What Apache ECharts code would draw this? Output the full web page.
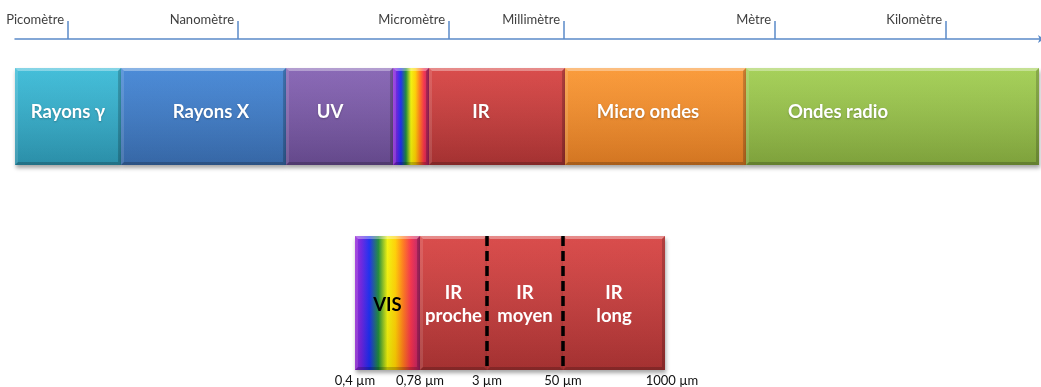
<!DOCTYPE html>
<html>
<head>
<meta charset="utf-8">
<script src="https://cdn.jsdelivr.net/npm/echarts@6/dist/echarts.min.js"></script>
<style>html,body{margin:0;padding:0;background:#fff;}#chart{width:1041px;height:387px;}</style>
</head>
<body>
<div id="chart"></div>
<script>
// ---- Data (schematic scale units) ----
// Top spectrum: scale ticks
var scaleNames = ['Picomètre', 'Nanomètre', 'Micromètre', 'Millimètre', 'Mètre', 'Kilomètre'];
var scaleTicks = [53, 223, 434, 549, 760, 931];
// Top spectrum: bands
var bandNames  = ['Rayons γ', 'Rayons X', 'UV', '', 'IR', 'Micro ondes', 'Ondes radio'];
var bandStart  = [0, 106, 271, 378, 414, 550, 731];
var bandEnd    = [106, 271, 378, 414, 550, 731, 1024];
var bandLabelAt = [53, 196, 315, 396, 466, 633, 823];
var bandColorTop = ['#3dbcd8', '#4587d6', '#8664b4', null, '#d84645', '#fa9835', '#a3cf54'];
var bandColorBot = ['#2e9ab6', '#3a6fb3', '#6c4e96', null, '#b13535', '#e47f24', '#88ae40'];

// Bottom zoom: visible + infrared
var zoomTickValues = [0, 65, 132, 208, 310];
var zoomTickLabels = ['0,4 µm', '0,78 µm', '3 µm', '50 µm', '1000 µm'];
var zoomBandNames  = ['VIS', 'IR\nproche', 'IR\nmoyen', 'IR\nlong'];
var zoomBandStart  = [0, 65, 132, 208];
var zoomBandEnd    = [65, 132, 208, 310];
var zoomDashed     = [132, 208];

var spectrumStops = [
  [0.00, '#9a28d8'], [0.10, '#6a22e0'], [0.22, '#1a2cf0'], [0.36, '#1f8a3a'],
  [0.50, '#f2f20a'], [0.62, '#ffd000'], [0.74, '#ff7a1a'], [0.86, '#f5304a'],
  [1.00, '#b4206e']
];

function spectrumGradient() {
  return new echarts.graphic.LinearGradient(0, 0, 1, 0,
    spectrumStops.map(function (s) { return { offset: s[0], color: s[1] }; }));
}

function bevelBox(x0, y0, x1, y1, fill, b) {
  var kids = [];
  kids.push({
    type: 'rect', shape: { x: x0, y: y0, width: x1 - x0, height: y1 - y0 },
    style: { fill: fill, shadowBlur: 4, shadowOffsetY: 3, shadowOffsetX: 1, shadowColor: 'rgba(0,0,0,0.35)' }
  });
  kids.push({
    type: 'rect', shape: { x: x0, y: y0, width: x1 - x0, height: y1 - y0 },
    style: { fill: new echarts.graphic.LinearGradient(0, 0, 0, 1, [
      { offset: 0, color: 'rgba(255,255,255,0.04)' }, { offset: 1, color: 'rgba(0,0,0,0.08)' }]) }
  });
  kids.push({ type: 'polygon', shape: { points: [[x0, y0], [x1, y0], [x1 - b, y0 + b], [x0 + b, y0 + b]] },
    style: { fill: 'rgba(255,255,255,0.35)' } });
  kids.push({ type: 'polygon', shape: { points: [[x0, y1], [x1, y1], [x1 - b, y1 - b], [x0 + b, y1 - b]] },
    style: { fill: 'rgba(0,0,0,0.2)' } });
  kids.push({ type: 'polygon', shape: { points: [[x0, y0], [x0 + b, y0 + b], [x0 + b, y1 - b], [x0, y1]] },
    style: { fill: 'rgba(255,255,255,0.12)' } });
  kids.push({ type: 'polygon', shape: { points: [[x1, y0], [x1 - b, y0 + b], [x1 - b, y1 - b], [x1, y1]] },
    style: { fill: 'rgba(0,0,0,0.18)' } });
  return kids;
}

var topData = bandNames.map(function (n, i) { return [bandStart[i], bandEnd[i], i, bandLabelAt[i]]; });
var zoomData = zoomBandNames.map(function (n, i) { return [zoomBandStart[i], zoomBandEnd[i], i]; });

var chart = echarts.init(document.getElementById('chart'), null, { renderer: 'canvas' });
var axisBlue = '#5b8bc9';
var option = {
  animation: false,
  grid: [
    { left: 15, width: 1026, top: 68, height: 97 },
    { left: 355, width: 310, top: 236, height: 136 }
  ],
  xAxis: [
    {
      gridIndex: 0, type: 'value', min: 0, max: 1026, position: 'top', offset: 29,
      splitLine: { show: false },
      axisLine: { show: true, onZero: false, lineStyle: { color: axisBlue, width: 1.5 }, symbol: ['none', 'arrow'], symbolSize: [6, 6], symbolOffset: [0, 3] },
      axisTick: { show: true, length: 18, inside: false, customValues: scaleTicks, lineStyle: { color: axisBlue, width: 1.5 } },
      axisLabel: {
        show: true, customValues: scaleTicks, align: 'right', margin: 13, padding: [0, 4, 0, 0],
        fontFamily: 'Lato', fontSize: 13, color: '#404040',
        formatter: function (v) { var k = scaleTicks.indexOf(v); return k >= 0 ? scaleNames[k] : ''; }
      }
    },
    {
      gridIndex: 1, type: 'value', min: 0, max: 310, position: 'bottom',
      splitLine: { show: false }, axisLine: { show: false, onZero: false }, axisTick: { show: false },
      axisLabel: {
        show: true, customValues: zoomTickValues, margin: 4,
        fontFamily: 'Lato', fontSize: 13, color: '#111',
        formatter: function (v) {
          var k = zoomTickValues.indexOf(v);
          if (k < 0) return '';
          return k === zoomTickValues.length - 1 ? '{r|' + zoomTickLabels[k] + '}' : zoomTickLabels[k];
        },
        rich: { r: { fontFamily: 'Lato', fontSize: 13, color: '#111', padding: [0, 0, 0, 14] } }
      }
    }
  ],
  yAxis: [
    { gridIndex: 0, type: 'value', min: 0, max: 1, show: false },
    { gridIndex: 1, type: 'value', min: 0, max: 1, show: false }
  ],
  series: [
    {
      type: 'custom', xAxisIndex: 0, yAxisIndex: 0, data: topData, clip: false,
      renderItem: function (params, api) {
        var i = api.value(2);
        var p0 = api.coord([api.value(0), 1]);
        var p1 = api.coord([api.value(1), 0]);
        var fill = bandColorTop[i] ? new echarts.graphic.LinearGradient(0, 0, 0, 1, [
          { offset: 0, color: bandColorTop[i] }, { offset: 1, color: bandColorBot[i] }]) : spectrumGradient();
        var kids = bevelBox(p0[0], p0[1], p1[0], p1[1], fill, 3);
        if (bandNames[i]) {
          var lp = api.coord([api.value(3), 0.55]);
          kids.push({ type: 'text', style: { x: lp[0], y: lp[1], text: bandNames[i], align: 'center', verticalAlign: 'middle',
            fill: '#ffffff', font: 'bold 18.5px Lato', textShadowColor: 'rgba(0,0,0,0.25)', textShadowBlur: 2, textShadowOffsetY: 1 } });
        }
        return { type: 'group', children: kids };
      }
    },
    {
      type: 'custom', xAxisIndex: 1, yAxisIndex: 1, data: zoomData, clip: false,
      renderItem: function (params, api) {
        var i = api.value(2);
        var p0 = api.coord([api.value(0), 1]);
        var p1 = api.coord([api.value(1), 0]);
        var isVis = i === 0;
        var fill = isVis ? spectrumGradient() : new echarts.graphic.LinearGradient(0, 0, 0, 1, [
          { offset: 0, color: '#d84645' }, { offset: 1, color: '#b13535' }]);
        var kids = bevelBox(p0[0], p0[1], p1[0], p1[1], fill, 3);
        if (i === 1 || i === 2) { kids.splice(5, 1); }
        if (i === 2 || i === 3) { kids.splice(4, 1); }
        var c = api.coord([(api.value(0) + api.value(1)) / 2, 0.5]);
        kids.push({ type: 'text', style: { x: c[0], y: c[1] + 2, text: zoomBandNames[i], align: 'center', verticalAlign: 'middle',
          fill: isVis ? '#000000' : '#ffffff', font: 'bold 18.5px Lato', lineHeight: 23 } });
        return { type: 'group', children: kids };
      }
    },
    {
      type: 'custom', xAxisIndex: 1, yAxisIndex: 1, data: zoomDashed.map(function (v) { return [v]; }), clip: false, z: 5,
      renderItem: function (params, api) {
        var a = api.coord([api.value(0), 1]);
        var b = api.coord([api.value(0), 0]);
        return { type: 'line', shape: { x1: a[0], y1: a[1], x2: b[0], y2: b[1] },
          style: { stroke: '#000', lineWidth: 3.5, lineDash: [10, 5] } };
      }
    }
  ]
};
chart.setOption(option);
</script>
</body>
</html>
